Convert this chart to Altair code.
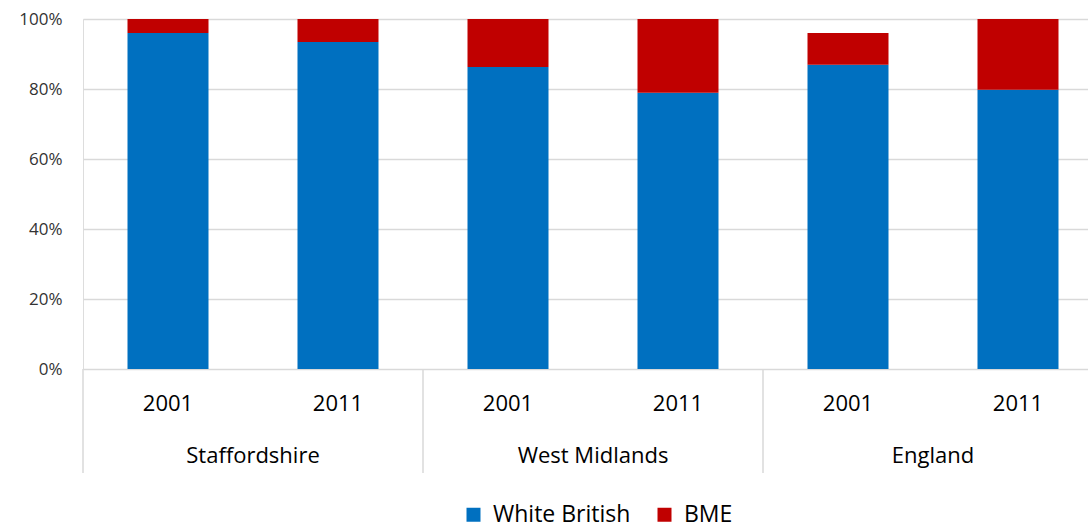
import altair as alt
import pandas as pd

regions = ["Staffordshire", "Staffordshire", "West Midlands", "West Midlands", "England", "England"]
years = ["2001", "2011", "2001", "2011", "2001", "2011"]
white_british = [96.0, 93.4, 86.3, 78.9, 86.9, 79.8]
bme = [4.0, 6.6, 13.7, 21.1, 9.1, 20.2]
series = ["White British", "BME"]
region_order = ["Staffordshire", "West Midlands", "England"]
year_order = ["2001", "2011"]

rows = []
for r, y, w, b in zip(regions, years, white_british, bme):
    rows.append({"region": r, "year": y, "series": "White British", "value": w / 100, "ord": 0})
    rows.append({"region": r, "year": y, "series": "BME", "value": b / 100, "ord": 1})
df = pd.DataFrame(rows)
cats = pd.DataFrame({"region": regions, "year": years})
groups = pd.DataFrame({"region": region_order})

FONT = "Open Sans"

xscale = alt.Scale(domain=region_order, range=[0, 1020], paddingInner=0, paddingOuter=0)
xoff = alt.Scale(domain=year_order, paddingInner=0.5235, paddingOuter=0.2618)

bars = alt.Chart(df).mark_bar().encode(
    x=alt.X("region:N", scale=xscale, axis=None),
    xOffset=alt.XOffset("year:N", scale=xoff),
    y=alt.Y("value:Q", stack="zero",
            scale=alt.Scale(domain=[0, 1], nice=False),
            axis=alt.Axis(format="%", values=[0, 0.2, 0.4, 0.6, 0.8, 1.0], title=None,
                          domain=False, ticks=False, labelPadding=21, labelFontSize=17,
                          labelFont=FONT, labelColor="#333333", gridColor="#d9d9d9",
                          gridWidth=1.3)),
    color=alt.Color("series:N", scale=alt.Scale(domain=series, range=["#0070C0", "#C00000"]),
                    legend=alt.Legend(title=None, orient="none", direction="horizontal",
                                      legendX=379, legendY=484, symbolType="square",
                                      symbolSize=196, symbolStrokeWidth=0, labelFontSize=23,
                                      labelFont=FONT, labelColor="#000000", columnPadding=22,
                                      labelOffset=8, symbolOpacity=1)),
    order=alt.Order("ord:Q"),
)

year_text = alt.Chart(cats).mark_text(fontSize=22, font=FONT, color="#000000", baseline="middle").encode(
    x=alt.X("region:N", scale=xscale, axis=None),
    xOffset=alt.XOffset("year:N", scale=xoff),
    text="year:N",
    y=alt.value(385),
)

group_text = alt.Chart(groups).mark_text(fontSize=22, font=FONT, color="#000000", baseline="middle").encode(
    x=alt.X("region:N", scale=xscale, axis=None),
    text="region:N",
    y=alt.value(437),
)

seps = alt.Chart(groups).mark_rule(color="#d9d9d9", strokeWidth=1.5).encode(
    x=alt.X("region:N", scale=xscale, axis=None, bandPosition=0),
    y=alt.value(350),
    y2=alt.value(454),
)

chart = alt.layer(bars, seps, year_text, group_text).properties(
    width=1005, height=350,
    autosize=alt.AutoSizeParams(type="none"),
    padding={"left": 83, "top": 19, "right": 0, "bottom": 160},
).configure_view(stroke=None).configure(background="white")

chart.save("out.html", embed_options={"renderer": "svg", "actions": False})
